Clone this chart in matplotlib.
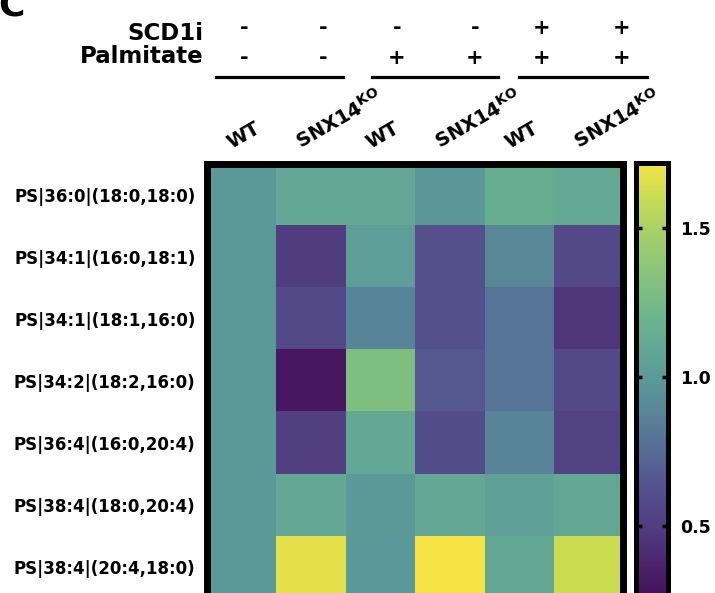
import numpy as np
import matplotlib
matplotlib.use("Agg")
import matplotlib.pyplot as plt
from matplotlib.colors import LinearSegmentedColormap, Normalize
from matplotlib.lines import Line2D

plt.rcParams["font.family"] = ["DejaVu Sans"]
plt.rcParams["font.weight"] = "bold"

# ---- data -------------------------------------------------------------
species = [
    "PS|36:0|(18:0,18:0)",
    "PS|34:1|(16:0,18:1)",
    "PS|34:1|(18:1,16:0)",
    "PS|34:2|(18:2,16:0)",
    "PS|36:4|(16:0,20:4)",
    "PS|38:4|(18:0,20:4)",
    "PS|38:4|(20:4,18:0)",
]
genotypes = ["WT", "SNX14KO", "WT", "SNX14KO", "WT", "SNX14KO"]
scd1i = ["-", "-", "-", "-", "+", "+"]
palmitate = ["-", "-", "+", "+", "+", "+"]

# fold change relative to untreated WT (rows = species, cols = conditions)
wt_ctrl = [1.00, 1.00, 1.00, 1.00, 1.00, 1.00, 1.00]
ko_ctrl = [1.10, 0.50, 0.58, 0.30, 0.52, 1.10, 1.67]
wt_palm = [1.10, 1.03, 0.88, 1.30, 1.10, 1.00, 0.99]
ko_palm = [0.98, 0.62, 0.62, 0.67, 0.60, 1.10, 1.72]
wt_scd = [1.14, 0.90, 0.80, 0.80, 0.88, 1.05, 1.10]
ko_scd = [1.11, 0.58, 0.46, 0.58, 0.54, 1.10, 1.61]

cbar_ticks = [0.5, 1.0, 1.5]
vmin, vmax = 0.26, 1.72

values = np.column_stack([wt_ctrl, ko_ctrl, wt_palm, ko_palm, wt_scd, ko_scd])

# ---- colormap (muted viridis) ----------------------------------------
anchors = [
    (0.26, "#45105c"), (0.35, "#4a2068"), (0.45, "#4f3479"), (0.55, "#534587"),
    (0.65, "#55558f"), (0.75, "#566b95"), (0.85, "#577f98"), (0.95, "#5a9199"),
    (1.00, "#5c9a99"), (1.10, "#62a896"), (1.20, "#6cb48d"), (1.35, "#88c47c"),
    (1.50, "#aad166"), (1.62, "#cedd52"), (1.72, "#f5e444"),
]
cmap = LinearSegmentedColormap.from_list(
    "muted_viridis", [((v - vmin) / (vmax - vmin), c) for v, c in anchors])
norm = Normalize(vmin=vmin, vmax=vmax)

# ---- figure -----------------------------------------------------------
W, H = 715, 593
fig = plt.figure(figsize=(W / 100, H / 100), dpi=100)


def box(left, top, right, bottom):
    return [left / W, 1 - bottom / H, (right - left) / W, (bottom - top) / H]


def fx(x):
    return x / W


def fy(y):
    return 1 - y / H


ax = fig.add_axes(box(206.5, 163.5, 623, 598))
im = ax.imshow(values, cmap=cmap, norm=norm, aspect="auto",
               interpolation="nearest")
for s in ax.spines.values():
    s.set_linewidth(5)
ax.set_xticks([])
ax.set_yticks(range(len(species)))
ax.set_yticklabels(species, fontsize=12, fontweight="bold")
ax.tick_params(axis="y", length=0, pad=8)

# rotated condition labels above the columns
for j, g in enumerate(genotypes):
    label = "SNX14$^{\\mathbf{KO}}$" if g == "SNX14KO" else g
    ax.annotate(label, xy=(j, 1), xycoords=("data", "axes fraction"),
                xytext=(-7, 10.5), textcoords="offset points",
                rotation=30, rotation_mode="anchor", ha="left",
                va="baseline", fontsize=14, fontweight="bold")

# colorbar
cax = fig.add_axes(box(635.5, 162.5, 667.5, 598))
cb = fig.colorbar(im, cax=cax, ticks=cbar_ticks)
cb.outline.set_linewidth(3.6)
cb.ax.set_yticklabels([f"{t:.1f}" for t in cbar_ticks], fontsize=12.5,
                      fontweight="bold")
cax.tick_params(axis="y", direction="in", length=4, width=2.5,
                left=True, right=True, pad=9)

# treatment header
fig.text(fx(203), fy(40), "SCD1i", ha="right", va="baseline",
         fontsize=16.5, fontweight="bold")
fig.text(fx(203), fy(63), "Palmitate", ha="right", va="baseline",
         fontsize=16.5, fontweight="bold")
sign_x = [244, 323, 397, 475, 542, 622]
for x, a, b in zip(sign_x, scd1i, palmitate):
    fig.text(fx(x), fy(34), a, ha="center", va="baseline",
             fontsize=15, fontweight="bold")
    fig.text(fx(x), fy(64), b, ha="center", va="baseline",
             fontsize=15, fontweight="bold")
for x0, x1 in [(216, 343), (372, 498), (519, 647)]:
    fig.add_artist(Line2D([fx(x0), fx(x1)], [fy(77), fy(77)],
                          transform=fig.transFigure, color="black", lw=2.3))

fig.text(fx(-2), fy(15), "C", ha="left", va="baseline", fontsize=26,
         fontweight="bold")

fig.savefig("out.png", dpi=100)
